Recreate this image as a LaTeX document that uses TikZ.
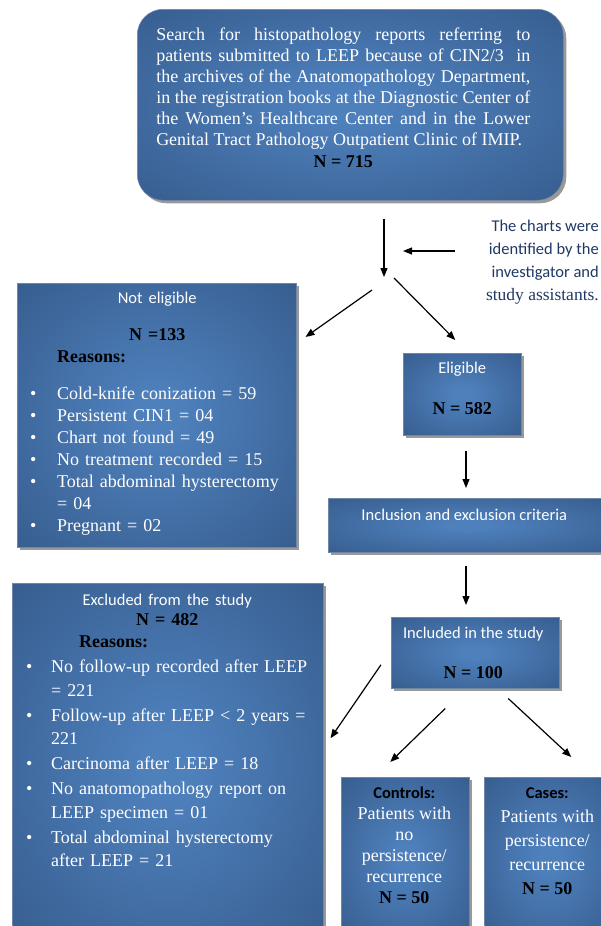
\documentclass[tikz,border=0pt]{standalone}
\usepackage{fontspec}
\setmainfont{Liberation Serif}
\newfontfamily\calibri{Carlito}
\usepackage{xcolor}
\definecolor{panelLight}{HTML}{4E80BC}
\definecolor{panelDark}{HTML}{375D8E}
\definecolor{panelEdge}{HTML}{6F86A6}
\definecolor{shadowGray}{HTML}{7F7F7F}
\definecolor{noteBlue}{HTML}{1F3864}
\usepackage{tikz}
\usetikzlibrary{
    arrows.meta,
    shadows,
    positioning,
    calc
}
\pgfdeclareradialshading{panelglow}{\pgfpoint{0bp}{0bp}}{%
    color(0bp)=(panelLight); color(4bp)=(panelLight);
    color(36bp)=(panelDark); color(50bp)=(panelDark)}
% bullet line with hanging indent
\newcommand{\listitem}[2][27pt]{\par\noindent\hangindent=#1\hangafter=1%
    \makebox[#1][l]{\textbullet}#2\par}
\tikzset{
    % Blue panels with a soft radial glow
    panel/.style={
        rectangle,
        shade,
        shading=panelglow,
        draw=panelEdge,
        line width=0.5pt,
        drop shadow={shadow xshift=3pt, shadow yshift=-3pt, fill=shadowGray, opacity=0.8},
        inner sep=0pt,
        anchor=north west,
    },
    % Rounded panel for the search step
    round panel/.style={
        panel,
        rounded corners=26pt,
    },
    % White serif text inside the panels
    body/.style={
        text=white,
        inner sep=0pt,
        font=\fontsize{18}{22}\selectfont,
    },
    % Panel headings
    heading/.style={
        font=\calibri\fontsize{16.5}{22}\selectfont,
    },
    % Plain black arrow
    arrow/.style={
        -{Triangle[length=9pt, width=7pt]},
        line width=1.2pt,
        draw=black,
    },
}
\newcommand{\headline}[1]{{\calibri\fontsize{16.5}{22}\selectfont #1}}
\newcommand{\tally}[1]{{\bfseries\color{black}#1}}

\begin{document}
\begin{tikzpicture}[x=1pt, y=-1pt]
    \useasboundingbox (0,0) rectangle (601,926);

    \node (search) [round panel, minimum width=426pt, minimum height=191pt] at (137,9) {};
    \node (searchText) [body, text width=374pt, align=justify, font=\fontsize{18}{21}\selectfont,
        below=18.5pt of search.north, xshift=-7pt] {Search for histopathology reports referring to\linebreak
        patients submitted to LEEP because of CIN2/3 \ in\linebreak
        the archives of the Anatomopathology Department,\linebreak
        in the registration books at the Diagnostic Center of\linebreak
        the Women’s Healthcare Center and in the Lower\linebreak
        Genital Tract Pathology Outpatient Clinic of IMIP.\par
        \vspace{1pt}
        {\centering\tally{N = 715}\par}};

    \node (charts) [anchor=north east, inner sep=0pt, align=right, text=noteBlue,
        font=\calibri\fontsize{16.5}{23}\selectfont] at (599,220)
        {The charts were\\identified by the\\investigator and\\{\rmfamily\fontsize{17.5}{23}\selectfont study assistants.}};

    \node (noteligible) [panel, minimum width=279pt, minimum height=264pt] at (17,283) {};
    \node (noteligibleText) [body, text width=254pt, align=left,
        below right=9pt and 13pt of noteligible.north west] {%
        {\centering\headline{Not eligible}\par}
        \vspace{15pt}
        {\centering\tally{N =133}\par}
        \hspace*{27pt}\tally{Reasons:}\par
        \vspace{15pt}
        \listitem{Cold-knife conization = 59}
        \listitem{Persistent CIN1 = 04}
        \listitem{Chart not found = 49}
        \listitem{No treatment recorded = 15}
        \listitem{Total abdominal hysterectomy\newline = 04}
        \listitem{Pregnant = 02}};

    \node (eligible) [panel, minimum width=118pt, minimum height=82pt] at (403,353) {};
    \node (eligibleText) [body, align=center, below=9pt of eligible.north]
        {\headline{Eligible}\\[19pt]\tally{N = 582}};

    \node (criteria) [panel, minimum width=280pt, minimum height=54pt] at (328,498) {};
    \node (criteriaText) [body, heading, below=11pt of criteria.north, xshift=-4pt]
        {Inclusion and exclusion criteria};

    \node (included) [panel, minimum width=168pt, minimum height=71pt] at (391,617) {};
    \node (includedText) [body, align=center, below=10pt of included.north, xshift=-2pt]
        {\headline{Included in the study}\\[18pt]\tally{N = 100}};

    \node (excluded) [panel, minimum width=311pt, minimum height=360pt] at (12,583) {};
    \node (excludedText) [body, text width=282pt, align=left,
        below right=11pt and 14pt of excluded.north west] {%
        {\centering\headline{Excluded from the study}\par}
        {\centering\fontsize{18}{20}\selectfont\tally{N = 482}\par}
        {\fontsize{18}{22}\selectfont\hspace*{53pt}\tally{Reasons:}\par}
        \fontsize{18}{23.5}\selectfont\setlength{\parskip}{1.5pt}
        \listitem[25pt]{No follow-up recorded after LEEP\newline = 221}
        \listitem[25pt]{Follow-up after LEEP < 2 years =\newline 221}
        \listitem[25pt]{Carcinoma after LEEP = 18}
        \listitem[25pt]{No anatomopathology report on\newline LEEP specimen = 01}
        \listitem[25pt]{Total abdominal hysterectomy\newline after LEEP = 21}};

    \node (controls) [panel, minimum width=128pt, minimum height=160pt] at (341,777) {};
    \node (controlsText) [body, align=center, font=\fontsize{18}{21}\selectfont,
        below=10pt of controls.north, xshift=-1pt]
        {{\calibri\bfseries\color{black}\fontsize{16.5}{21}\selectfont Controls:}\\Patients with\\no\\persistence/\\recurrence\\\tally{N = 50}};

    \node (cases) [panel, minimum width=130pt, minimum height=160pt] at (484,777) {};
    \node (casesText) [body, align=center, font=\fontsize{18}{24}\selectfont,
        below=10pt of cases.north, xshift=-2pt]
        {{\calibri\bfseries\color{black}\fontsize{16.5}{24}\selectfont Cases:}\\Patients with\\persistence/\\recurrence\\\tally{N = 50}};

    % connectors
    \coordinate (fork) at (384,277);
    \coordinate (noteArrow) at (403,251);
    \coordinate (trunk) at (466,0);
    \draw [arrow, shorten <=18pt] (search.south -| fork) -- (fork);
    \draw [arrow, shorten <=31pt] (noteArrow -| charts.west) -- (noteArrow);
    \draw [arrow] ($(fork)+(-12,13)$) -- ($(noteligible.north east)+(9,54)$);
    \draw [arrow] ($(fork)+(10,1)$) -- ($(eligible.north)+(-7,-13)$);
    \draw [arrow, shorten <=15pt, shorten >=10pt] (eligible.south -| trunk) -- (criteria.north -| trunk);
    \draw [arrow, shorten <=13pt, shorten >=12pt] (criteria.south -| trunk) -- (included.north -| trunk);
    \draw [arrow] ($(included.west)+(-10,12)$) -- ($(excluded.east)+(7,-25)$);
    \draw [arrow] ($(included.south)+(-30,20)$) -- ($(controls.north)+(-15,-15)$);
    \draw [arrow] ($(included.south)+(33,10)$) -- ($(cases.north)+(22,-20)$);
\end{tikzpicture}
\end{document}
